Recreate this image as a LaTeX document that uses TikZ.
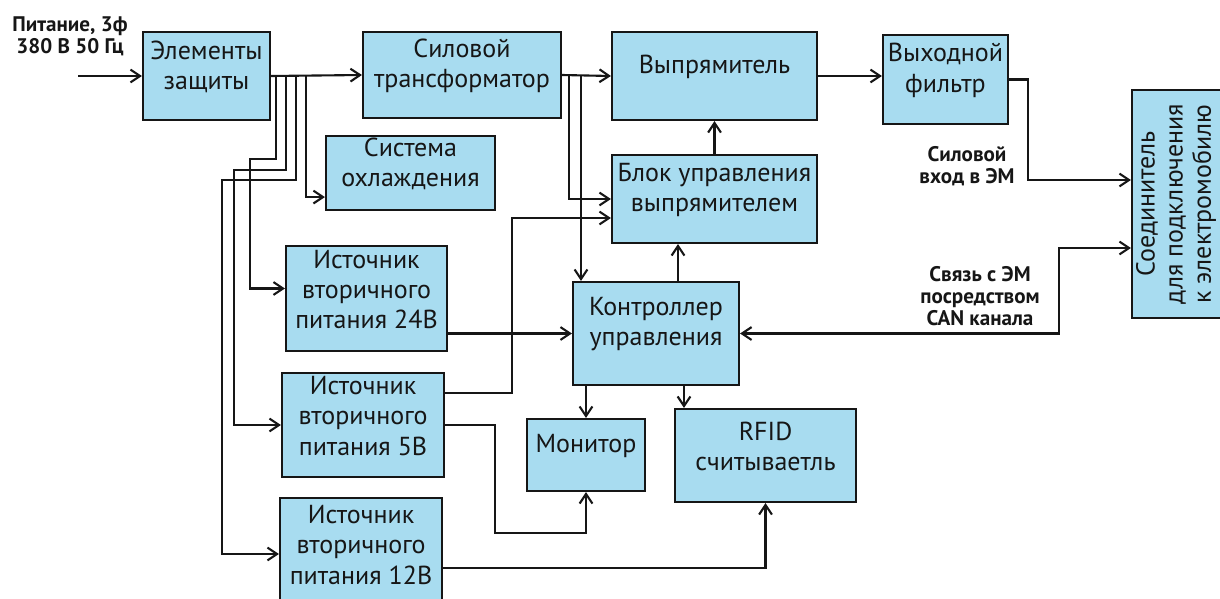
\documentclass[tikz,border=0pt]{standalone}
\usepackage{fontspec}
\setmainfont{PT Sans}
\usepackage{xcolor}
\usepackage{tikz}
\usetikzlibrary{arrows.meta,positioning,calc,fit}
\definecolor{zsfond}{HTML}{A8DCF0}
\definecolor{zsdark}{HTML}{161616}

\begin{document}
\begin{tikzpicture}[x=0.025cm, y=-0.025cm,
  every node/.style={font=\fontsize{18.5}{21.5}\selectfont, align=center, text=zsdark},
  blk/.style={draw=zsdark, fill=zsfond, line width=1.5pt, inner sep=0pt},
  lbl/.style={font=\fontsize{15}{15.8}\selectfont\bfseries},
  arr/.style={-{Straight Barb[length=2.4mm,width=3.2mm]}, line width=1.5pt, zsdark},
  arrd/.style={{Straight Barb[length=2.4mm,width=3.2mm]}-{Straight Barb[length=2.4mm,width=3.2mm]}, line width=1.5pt, zsdark}]
  \useasboundingbox (0,0) rectangle (1220,598);
  % Силовая цепь
  \node[blk, fit={(143,32) (270,120)}] (prot) {Элементы\\защиты};
  \node[blk, fit={(363,32) (561,118)}] (trafo) {Силовой\\трансформатор};
  \node[blk, fit={(612,32) (817,120)}] (rect) {Выпрямитель};
  \node[blk, fit={(883,35) (1008,124)}] (filt) {Выходной\\фильтр};
  % Соединитель
  \node[blk, fit={(1132,90) (1240,318)}] (conn) {};
  \node[rotate=90, font=\fontsize{18.5}{20}\selectfont] (conntxt) at (1176,204) {Соединитель\\для подключения\\к электромобилю};
  % Управление
  \node[blk, fit={(326,136) (495,210)}] (cool) {Система\\охлаждения};
  \node[blk, fit={(612,155) (817,243)}] (rectctl) {Блок управления\\выпрямителем};
  \node[blk, fit={(573,282) (739,385)}] (ctrl) {Контроллер\\управления};
  \node[blk, fit={(527,419) (645,491)}] (mon) {Монитор};
  \node[blk, fit={(675,409) (856,502)}] (rfid) {RFID\\считываетль};
  % Источники вторичного питания
  \node[blk, fit={(286,246) (447,351)}] (ps24) {Источник\\вторичного\\питания 24В};
  \node[blk, fit={(282,373) (444,477)}] (ps5) {Источник\\вторичного\\питания 5В};
  \node[blk, fit={(280,498) (442,610)}] (ps12) {Источник\\вторичного\\питания 12В};
  % Подписи
  \node[lbl] (pit) at (70,36) {Питание, 3ф\\380 В 50 Гц};
  \node[lbl] (silin) at (967,166) {Силовой\\вход в ЭМ};
  \node[lbl] (can) at (980,296) {Связь с ЭМ\\посредством\\CAN канала};
  % Вход и главная линия
  \coordinate (vin) at (78,76);
  \draw[arr] (vin) -- (prot.west);
  \draw[arr] (prot.east) -- (trafo.west);
  \draw[arr] (trafo.east) -- (rect.west);
  \draw[arr] (rect.east) -- (rect.east -| filt.west);
  % Отводы от элементов защиты
  \coordinate (f1) at (276,76);
  \coordinate (f2) at (286,76);
  \coordinate (f3) at (296,76);
  \coordinate (f4) at (306,76);
  \coordinate (k1) at (250,159);
  \coordinate (k2) at (234,170);
  \coordinate (k3) at (222,180);
  \draw[arr] (f1) |- (k1) |- ([yshift=0.25cm]ps24.west);
  \draw[arr] (f2) |- (k2) |- (ps5.west);
  \draw[arr] (f3) |- (k3) |- (ps12.west);
  \draw[arr] (f4) |- ([yshift=0.35cm]cool.south west);
  % Отводы от трансформатора
  \coordinate (t1) at (569,76);
  \coordinate (t2) at (581,76);
  \draw[arr] (t1) |- (rectctl.west);
  \draw[arr] (t2) -- (t2 |- ctrl.north);
  % Управление выпрямителем
  \draw[arr] (rectctl.north) -- (rectctl.north |- rect.south);
  \coordinate (c1) at ([xshift=0.55cm]ctrl.north);
  \draw[arr] (c1) -- (c1 |- rectctl.south);
  % Питание контроллера и периферии
  \draw[arr] (ps24.east |- ctrl.west) -- (ctrl.west);
  \coordinate (k5) at (512,218);
  \draw[arr] ([yshift=0.8cm]ps5.east) -| (k5) -- (k5 -| rectctl.west);
  \coordinate (k6) at (495,533);
  \draw[arr] (ps5.east) -| (k6) -| (mon.south);
  \draw[arr] ([yshift=-0.35cm]ps12.east) -| (rfid.south);
  \draw[arr] (mon.north |- ctrl.south) -- (mon.north);
  \coordinate (c2) at ([xshift=0.7cm]ctrl.south);
  \draw[arr] (c2) -- (c2 |- rfid.north);
  % Выход на электромобиль
  \coordinate (k7) at (1028,180);
  \draw[arr] (filt.east) -| (k7) -- (k7 -| conn.west);
  \coordinate (k8) at (1059,248);
  \draw[arrd] (ctrl.east) -| (k8) -- (k8 -| conn.west);
\end{tikzpicture}
\end{document}
